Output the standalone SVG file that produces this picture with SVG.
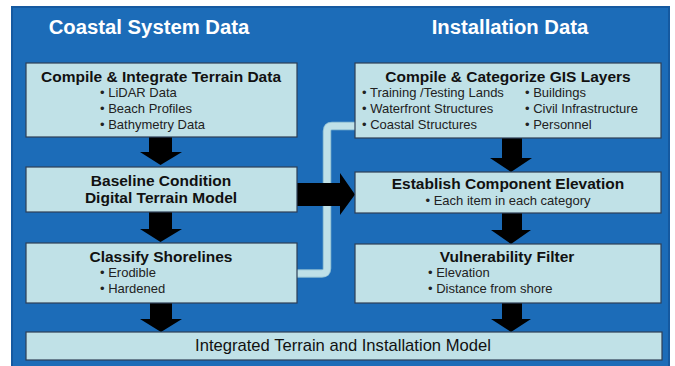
<svg xmlns="http://www.w3.org/2000/svg" width="675" height="366" viewBox="0 0 675 366">
<defs>
<style>
.box{fill:#c0e1e7;stroke:#2e3f56;stroke-width:1.2}
.hdr{font-family:"Liberation Sans",Arial,sans-serif;font-weight:bold;font-size:20.3px;fill:#ffffff;text-anchor:middle}
.ttl{font-family:"Liberation Sans",Arial,sans-serif;font-weight:bold;font-size:15.5px;fill:#111111;text-anchor:middle}
.bul{font-family:"Liberation Sans",Arial,sans-serif;font-size:13px;fill:#222222}
.big{font-family:"Liberation Sans",Arial,sans-serif;font-size:16.6px;fill:#111111;text-anchor:middle}
.arr{fill:#000000}
</style>
</defs>
<rect x="0" y="0" width="675" height="366" fill="#ffffff"/>
<rect x="12" y="7" width="657" height="362" fill="#1c6cb8" stroke="#1559a0" stroke-width="2"/>
<text class="hdr" x="149" y="34">Coastal System Data</text>
<text class="hdr" x="510" y="34">Installation Data</text>

<g id="connectors">
<path d="M297,273.5 H322 Q327,273.5 327,268.5 V131 Q327,126 332,126 H356" fill="none" stroke="#8fbfd4" stroke-width="8.5"/>
<path d="M297,273.5 H322 Q327,273.5 327,268.5 V131 Q327,126 332,126 H356" fill="none" stroke="#bfe1e8" stroke-width="6.5"/>
<polygon class="arr" points="149,137 172,137 172,152 182,152 160.5,165 140,152 149,152"/>
<polygon class="arr" points="149,212 172,212 172,229 182,229 160.5,242 140,229 149,229"/>
<polygon class="arr" points="150,303 172,303 172,319 182,319 161,332 140,319 150,319"/>
<polygon class="arr" points="502,138 522,138 522,158 532,158 511,172 490,158 502,158"/>
<polygon class="arr" points="502,213 522,213 522,230 531,230 511,244 491,230 502,230"/>
<polygon class="arr" points="502,303 522,303 522,319 531,319 511,332 491,319 502,319"/>
<polygon class="arr" points="296,183 340,183 340,173 355,194.5 340,215 340,206 296,206"/>
</g>

<g id="terrain-data">
<rect class="box" x="26" y="63" width="271" height="74"/>
<text class="ttl" x="161" y="82">Compile &amp; Integrate Terrain Data</text>
<text class="bul" x="100" y="97">• LiDAR Data</text>
<text class="bul" x="100" y="113">• Beach Profiles</text>
<text class="bul" x="100" y="129">• Bathymetry Data</text>
</g>

<g id="baseline-dtm">
<rect class="box" x="26" y="167" width="271" height="45"/>
<text class="ttl" x="161" y="186">Baseline Condition</text>
<text class="ttl" x="161" y="203">Digital Terrain Model</text>
</g>

<g id="classify-shorelines">
<rect class="box" x="26" y="243" width="271" height="60"/>
<text class="ttl" x="161" y="262">Classify Shorelines</text>
<text class="bul" x="100" y="277">• Erodible</text>
<text class="bul" x="100" y="293">• Hardened</text>
</g>

<g id="gis-layers">
<rect class="box" x="355" y="63" width="306" height="75"/>
<text class="ttl" x="508" y="82">Compile &amp; Categorize GIS Layers</text>
<text class="bul" x="362" y="97">• Training /Testing Lands</text>
<text class="bul" x="362" y="113">• Waterfront Structures</text>
<text class="bul" x="362" y="129">• Coastal Structures</text>
<text class="bul" x="525" y="97">• Buildings</text>
<text class="bul" x="525" y="113">• Civil Infrastructure</text>
<text class="bul" x="525" y="129">• Personnel</text>
</g>

<g id="component-elevation">
<rect class="box" x="355" y="172" width="306" height="41"/>
<text class="ttl" x="508" y="189">Establish Component Elevation</text>
<text class="bul" x="508" y="205" text-anchor="middle">• Each item in each category</text>
</g>

<g id="vulnerability-filter">
<rect class="box" x="355" y="244" width="306" height="59"/>
<text class="ttl" x="507" y="262">Vulnerability Filter</text>
<text class="bul" x="428" y="277">• Elevation</text>
<text class="bul" x="428" y="293">• Distance from shore</text>
</g>

<g id="integrated-model">
<rect class="box" x="26" y="332" width="636" height="28"/>
<text class="big" x="343" y="351">Integrated Terrain and Installation Model</text>
</g>
</svg>
